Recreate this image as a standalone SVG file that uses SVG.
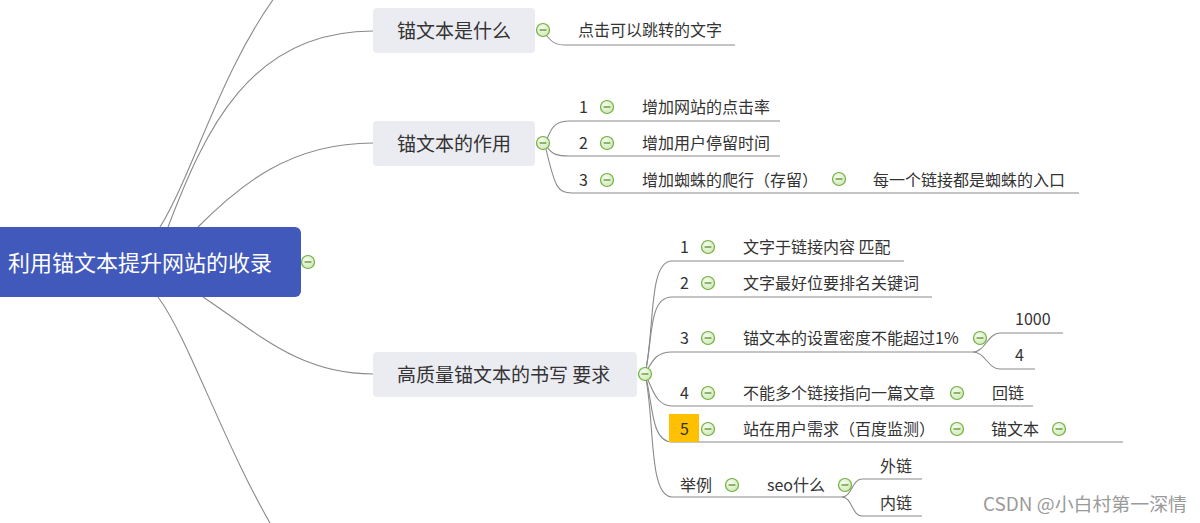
<svg xmlns="http://www.w3.org/2000/svg" width="1200" height="523" viewBox="0 0 1200 523">
<defs>
<style>
text{font-family:"Microsoft YaHei","Noto Sans CJK SC","Noto Sans",sans-serif;fill:#333}
.l{fill:none;stroke:#8a8a8a;stroke-width:1.1}
.n2{fill:#EBEBF2}
.t2{font-size:19px}
.t3{font-size:16px}
.root{font-size:22px;fill:#fff}
.wm{font-size:18px;fill:#9a9a9a}
</style>
<radialGradient id="cg" cx="0.4" cy="0.35" r="0.7">
<stop offset="0" stop-color="#f6fcef"/><stop offset="1" stop-color="#cfe8b4"/>
</radialGradient>
<g id="col"><circle r="6.5" fill="url(#cg)" stroke="#72b043" stroke-width="1.2"/><line x1="-3.4" y1="0" x2="3.4" y2="0" stroke="#5a8f34" stroke-width="1.3"/></g>
</defs>
<rect width="1200" height="523" fill="#fff"/>
<g id="connectors">
<path class="l" d="M160,227 C195,170 220,70 280,-10"/>
<path class="l" d="M168,227 C205,130 250,31 373,31"/>
<path class="l" d="M198,227 C240,185 290,143 373,143"/>
<path class="l" d="M203,297 C260,335 300,374 373,374"/>
<path class="l" d="M158,297 C190,340 225,450 280,540"/>
<path class="l" d="M546,35 C552,42 555,45 565,45 L735,45"/>
<path class="l" d="M547,139 C552,126 556,121 570,121 L780,121"/>
<path class="l" d="M547,147 C552,154 556,156 570,156 L780,156"/>
<path class="l" d="M546,149 C555,188 558,193 572,193 L1079,193"/>
<path class="l" d="M645,374 C655,330 648,261 672,261 L904,261"/>
<path class="l" d="M645,374 C653,340 648,297 672,297 L932,297"/>
<path class="l" d="M645,374 C652,362 655,352 672,352 L973,352"/>
<path class="l" d="M973,352 C985,352 988,333 1000,333 L1063,333"/>
<path class="l" d="M973,352 C985,352 988,369 1000,369 L1035,369"/>
<path class="l" d="M645,374 C652,386 655,406 672,406 L1033,406"/>
<path class="l" d="M645,374 C653,400 650,442 672,442 L1123,442"/>
<path class="l" d="M645,374 C655,418 648,497 672,497 L842,497"/>
<path class="l" d="M842,497 C852,497 852,479 862,479 L922,479"/>
<path class="l" d="M842,497 C852,497 852,516 862,516 L922,516"/>
</g>
<g id="root">
<rect x="-10" y="227" width="311" height="70" rx="6" fill="#4159BA"/>
<text class="root" x="8" y="271">利用锚文本提升网站的收录</text>
<use href="#col" x="308" y="262"/>
</g>
<g id="n-what">
<rect class="n2" x="373" y="8" width="162" height="45" rx="4"/>
<text class="t2" x="454" y="37.5" text-anchor="middle">锚文本是什么</text>
<use href="#col" x="543" y="30"/>
</g>
<g id="n-what-1"><text class="t3" x="578" y="36">点击可以跳转的文字</text></g>
<g id="n-role">
<rect class="n2" x="373" y="121" width="162" height="45" rx="4"/>
<text class="t2" x="454" y="151" text-anchor="middle">锚文本的作用</text>
<use href="#col" x="543" y="143"/>
</g>
<g id="n-role-1"><text class="t3" x="579" y="113">1</text><use href="#col" x="607" y="107"/><text class="t3" x="642" y="113">增加网站的点击率</text></g>
<g id="n-role-2"><text class="t3" x="579" y="149">2</text><use href="#col" x="607" y="143"/><text class="t3" x="642" y="149">增加用户停留时间</text></g>
<g id="n-role-3"><text class="t3" x="579" y="186">3</text><use href="#col" x="607" y="180"/><text class="t3" x="642" y="186">增加蜘蛛的爬行（存留）</text><use href="#col" x="839" y="179"/></g>
<g id="n-role-3-1"><text class="t3" x="873" y="186">每一个链接都是蜘蛛的入口</text></g>
<g id="n-req">
<rect class="n2" x="373" y="352" width="264" height="45" rx="4"/>
<text class="t2" x="397" y="382">高质量锚文本的书写 要求</text>
<use href="#col" x="645" y="374"/>
</g>
<g id="n-req-1"><text class="t3" x="680" y="253">1</text><use href="#col" x="708" y="247"/><text class="t3" x="743" y="253">文字于链接内容 匹配</text></g>
<g id="n-req-2"><text class="t3" x="680" y="289">2</text><use href="#col" x="708" y="283"/><text class="t3" x="743" y="289">文字最好位要排名关键词</text></g>
<g id="n-req-3"><text class="t3" x="680" y="344">3</text><use href="#col" x="708" y="338"/><text class="t3" x="743" y="344">锚文本的设置密度不能超过1%</text><use href="#col" x="980" y="338"/></g>
<g id="n-req-3-1"><text class="t3" x="1015" y="325">1000</text></g>
<g id="n-req-3-2"><text class="t3" x="1015" y="361">4</text></g>
<g id="n-req-4"><text class="t3" x="680" y="399">4</text><use href="#col" x="708" y="393"/><text class="t3" x="743" y="399">不能多个链接指向一篇文章</text><use href="#col" x="957" y="393"/></g>
<g id="n-req-4-1"><text class="t3" x="992" y="399">回链</text></g>
<g id="n-req-5"><rect x="669" y="414" width="30" height="28" fill="#FFC000"/><text class="t3" x="680" y="435">5</text><use href="#col" x="708" y="429"/><text class="t3" x="743" y="435">站在用户需求（百度监测）</text><use href="#col" x="957" y="429"/></g>
<g id="n-req-5-1"><text class="t3" x="991" y="435">锚文本</text><use href="#col" x="1059" y="429"/></g>
<g id="n-req-6"><text class="t3" x="680" y="491">举例</text><use href="#col" x="732" y="485"/></g>
<g id="n-req-6-1"><text class="t3" x="767" y="491">seo什么</text><use href="#col" x="845" y="485"/></g>
<g id="n-req-6-1-1"><text class="t3" x="880" y="472">外链</text></g>
<g id="n-req-6-1-2"><text class="t3" x="880" y="509">内链</text></g>
<text class="wm" x="983" y="511" textLength="204" lengthAdjust="spacingAndGlyphs">CSDN @小白村第一深情</text>
</svg>
